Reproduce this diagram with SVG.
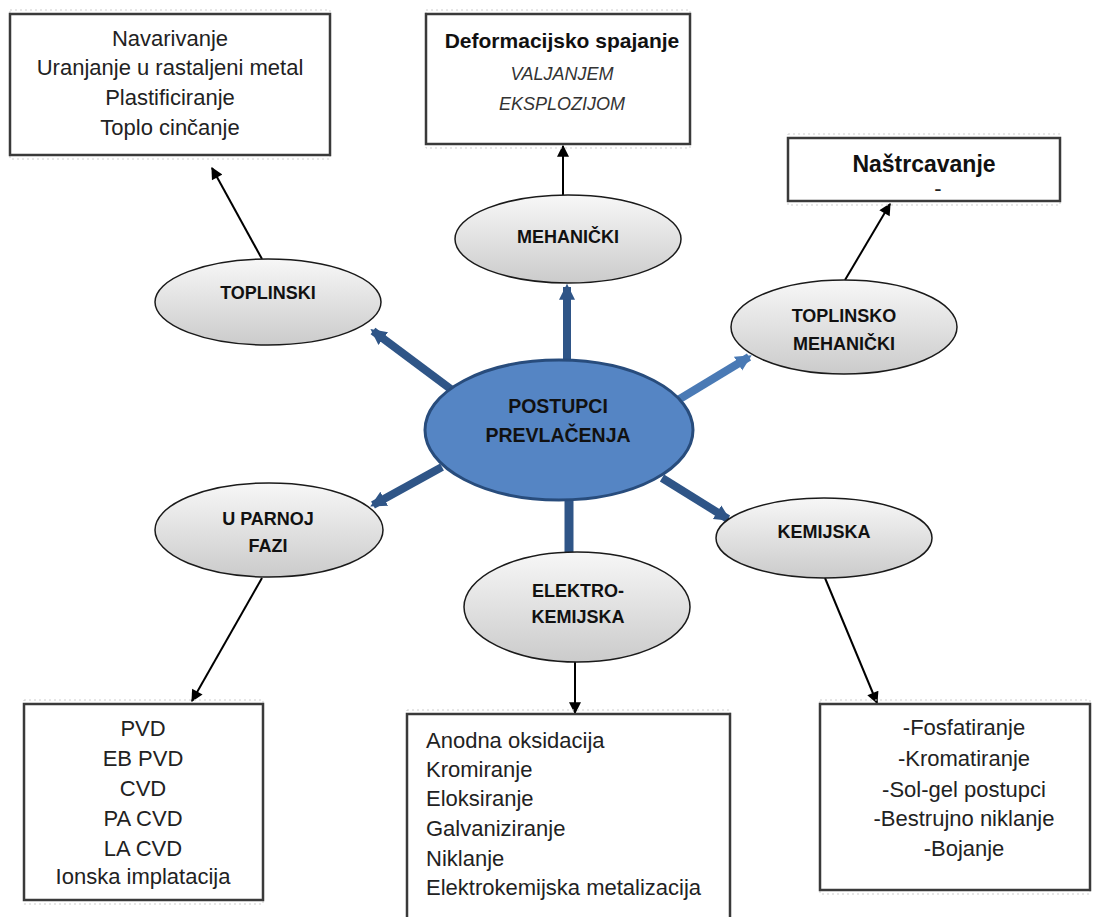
<svg xmlns="http://www.w3.org/2000/svg" width="1096" height="917" viewBox="0 0 1096 917">
<style>
.box{fill:#fff;stroke:#3a3a3a;stroke-width:2.5}
.boxsh{fill:none;stroke:#cfcfcf;stroke-width:1;stroke-dasharray:2 3}
.ell{fill:url(#gray);stroke:#1a1a1a;stroke-width:1.5}
.center{fill:#5585c4;stroke:#284c7c;stroke-width:3}
.lbl{font-family:"Liberation Sans",Arial,sans-serif;font-weight:bold;font-size:18px;fill:#111;text-anchor:middle}
.clbl{font-family:"Liberation Sans",Arial,sans-serif;font-weight:bold;font-size:19.5px;fill:#111;text-anchor:middle}
.item{font-family:"Liberation Sans",Arial,sans-serif;font-size:22px;fill:#222;text-anchor:middle}
.iteml{font-family:"Liberation Sans",Arial,sans-serif;font-size:22px;fill:#222}
.ital{font-family:"Liberation Sans",Arial,sans-serif;font-style:italic;font-size:18px;fill:#333;text-anchor:middle}
.head{font-family:"Liberation Sans",Arial,sans-serif;font-weight:bold;fill:#111;text-anchor:middle}
.blk{stroke:#000;stroke-width:2;fill:none;marker-end:url(#ah)}
.blue{stroke:#2f5587;stroke-width:8;fill:none;marker-end:url(#bh)}
.bluel{stroke:#4a7ab5;stroke-width:8;fill:none;marker-end:url(#bhl)}
</style>
<defs>
<linearGradient id="gray" x1="0" y1="0" x2="0" y2="1">
<stop offset="0" stop-color="#f7f7f7"/>
<stop offset="1" stop-color="#cbcbcb"/>
</linearGradient>
<marker id="ah" viewBox="0 0 10 10" markerUnits="userSpaceOnUse" markerWidth="13" markerHeight="12" refX="9" refY="5" orient="auto">
<path d="M0,0 L10,5 L0,10 z" fill="#000"/>
</marker>
<marker id="bh" viewBox="0 0 10 10" markerUnits="userSpaceOnUse" markerWidth="16" markerHeight="20" refX="8" refY="5" orient="auto">
<path d="M0,0 L10,5 L0,10 z" fill="#2f5587"/>
</marker>
<marker id="bhl" viewBox="0 0 10 10" markerUnits="userSpaceOnUse" markerWidth="16" markerHeight="20" refX="8" refY="5" orient="auto">
<path d="M0,0 L10,5 L0,10 z" fill="#4a7ab5"/>
</marker>
</defs>
<rect width="1096" height="917" fill="#fff"/>

<g id="connectors">
<line class="blue" x1="567" y1="362" x2="567" y2="287"/>
<line class="blue" x1="452" y1="390" x2="373" y2="331"/>
<line class="bluel" x1="678" y1="400" x2="749" y2="357"/>
<line class="blue" x1="442" y1="467" x2="373" y2="505"/>
<line class="blue" x1="662" y1="478" x2="728" y2="519"/>
<line stroke="#2f5587" stroke-width="9" x1="569" y1="495" x2="569" y2="560"/>
<line class="blk" x1="262" y1="259" x2="212" y2="168"/>
<line class="blk" x1="563" y1="195" x2="563" y2="146"/>
<line class="blk" x1="845" y1="280" x2="890" y2="204"/>
<line class="blk" x1="262" y1="578" x2="192" y2="701"/>
<line class="blk" x1="575" y1="662" x2="575" y2="713"/>
<line class="blk" x1="825" y1="578" x2="877" y2="703"/>
</g>

<g id="box-toplinski">
<rect class="boxsh" x="10" y="10" width="320" height="149"/>
<rect class="box" x="10" y="14" width="320" height="141"/>
<text class="item" x="170" y="46">Navarivanje</text>
<text class="item" x="170" y="75">Uranjanje u rastaljeni metal</text>
<text class="item" x="170" y="105">Plastificiranje</text>
<text class="item" x="170" y="135">Toplo cinčanje</text>
</g>

<g id="box-mehanicki">
<rect class="boxsh" x="426" y="10" width="264" height="138"/>
<rect class="box" x="426" y="14" width="264" height="130"/>
<text class="head" x="562" y="48" font-size="21">Deformacijsko spajanje</text>
<text class="ital" x="562" y="80">VALJANJEM</text>
<text class="ital" x="562" y="110">EKSPLOZIJOM</text>
</g>

<g id="box-toplinsko-mehanicki">
<rect class="boxsh" x="788" y="134" width="272" height="71"/>
<rect class="box" x="788" y="138" width="272" height="63"/>
<text class="head" x="924" y="172" font-size="23">Naštrcavanje</text>
<text class="item" x="938" y="196" font-size="11">-</text>
</g>

<g id="box-u-parnoj-fazi">
<rect class="boxsh" x="24" y="700" width="239" height="204"/>
<rect class="box" x="24" y="704" width="239" height="196"/>
<text class="item" x="143" y="736">PVD</text>
<text class="item" x="143" y="766">EB PVD</text>
<text class="item" x="143" y="796">CVD</text>
<text class="item" x="143" y="826">PA CVD</text>
<text class="item" x="143" y="856">LA CVD</text>
<text class="item" x="143" y="884">Ionska implatacija</text>
</g>

<g id="box-elektrokemijska">
<rect class="boxsh" x="407" y="710" width="323" height="220"/>
<rect class="box" x="407" y="714" width="323" height="215"/>
<text class="iteml" x="426" y="748">Anodna oksidacija</text>
<text class="iteml" x="426" y="777">Kromiranje</text>
<text class="iteml" x="426" y="806">Eloksiranje</text>
<text class="iteml" x="426" y="836">Galvaniziranje</text>
<text class="iteml" x="426" y="866">Niklanje</text>
<text class="iteml" x="426" y="895">Elektrokemijska metalizacija</text>
</g>

<g id="box-kemijska">
<rect class="boxsh" x="820" y="700" width="270" height="194"/>
<rect class="box" x="820" y="704" width="270" height="186"/>
<text class="item" x="964" y="735">-Fosfatiranje</text>
<text class="item" x="964" y="766">-Kromatiranje</text>
<text class="item" x="964" y="797">-Sol-gel postupci</text>
<text class="item" x="964" y="826">-Bestrujno niklanje</text>
<text class="item" x="964" y="856">-Bojanje</text>
</g>

<g id="node-mehanicki">
<ellipse class="ell" cx="568" cy="239" rx="113" ry="44"/>
<text class="lbl" x="568" y="243">MEHANIČKI</text>
</g>

<g id="node-toplinski">
<ellipse class="ell" cx="268" cy="302" rx="113" ry="43"/>
<text class="lbl" x="268" y="299">TOPLINSKI</text>
</g>

<g id="node-toplinsko-mehanicki">
<ellipse class="ell" cx="844" cy="327" rx="113" ry="47"/>
<text class="lbl" x="844" y="322">TOPLINSKO</text>
<text class="lbl" x="844" y="350">MEHANIČKI</text>
</g>

<g id="node-postupci">
<ellipse class="center" cx="559" cy="430" rx="134" ry="70"/>
<text class="clbl" x="558" y="413">POSTUPCI</text>
<text class="clbl" x="558" y="442">PREVLAČENJA</text>
</g>

<g id="node-u-parnoj-fazi">
<ellipse class="ell" cx="269" cy="530" rx="114" ry="47"/>
<text class="lbl" x="268" y="525">U PARNOJ</text>
<text class="lbl" x="268" y="552">FAZI</text>
</g>

<g id="node-elektrokemijska">
<ellipse class="ell" cx="577" cy="607" rx="113" ry="55"/>
<text class="lbl" x="578" y="597">ELEKTRO-</text>
<text class="lbl" x="578" y="623">KEMIJSKA</text>
</g>

<g id="node-kemijska">
<ellipse class="ell" cx="824" cy="538" rx="108" ry="40"/>
<text class="lbl" x="824" y="538">KEMIJSKA</text>
</g>
</svg>
